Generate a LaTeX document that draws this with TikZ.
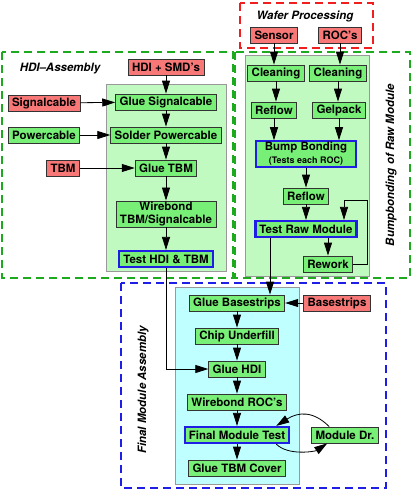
\documentclass[tikz,border=0pt]{standalone}
\usepackage{fontspec}
\setmainfont{TeX Gyre Heros}
\usetikzlibrary{arrows.meta}
\definecolor{srcred}{RGB}{248,120,120}
\definecolor{stepgreen}{RGB}{120,240,120}
\definecolor{panelgreen}{RGB}{192,250,192}
\definecolor{panelcyan}{RGB}{192,255,255}
\definecolor{grpgreen}{RGB}{30,170,30}
\definecolor{grpblue}{RGB}{30,30,230}
\definecolor{grpred}{RGB}{240,30,30}
\tikzset{
  box/.style={draw=black!80, thick, font=\fontsize{11.5}{13}\selectfont\bfseries,
    inner xsep=4pt, inner ysep=1pt, minimum height=16pt, align=center},
  src/.style={box, fill=srcred},
  work/.style={box, fill=stepgreen},
  test/.style={work, draw=grpblue, line width=2.2pt},
  arr/.style={-{Triangle[length=13pt,width=8pt]}, line width=0.8pt},
  grp/.style={dash pattern=on 8pt off 5pt, line width=1.8pt},
  panel/.style={draw=black!40, fill=#1},
  grplabel/.style={font=\fontsize{11.5}{13}\selectfont\bfseries\itshape}
}
\begin{document}
\begin{tikzpicture}[x=1pt,y=-1pt]
  \useasboundingbox (0,0) rectangle (412,491);
  % groups
  \draw[grp,grpred] (240,3) rectangle (373,48);
  \draw[grp,grpgreen] (2,52) rectangle (233,278);
  \draw[grp,grpgreen] (235,52) rectangle (410,278);
  \draw[grp,grpblue] (121,283) rectangle (386,488);
  \draw[panel=panelgreen] (106,84) rectangle (226,271);
  \draw[panel=panelgreen] (245,55) rectangle (369,276);
  \draw[panel=panelcyan] (175,287) rectangle (299,484);
  \node[grplabel] (lwafer) at (305,16) {Wafer Processing};
  \node[grplabel] (lhdi) at (60,69) {HDI--Assembly};
  \node[grplabel,rotate=90] (lbump) at (391,165) {Bumpbonding of Raw Module};
  \node[grplabel,rotate=90] (lfinal) at (143,390) {Final Module Assembly};

  % HDI assembly
  \node[src] (hdi) at (166,67) {HDI + SMD's};
  \node[src] (sig) at (44,103) {Signalcable};
  \node[work] (pow) at (44,135) {Powercable};
  \node[src] (tbm) at (63,168) {TBM};
  \node[work] (gsig) at (166,102) {Glue Signalcable};
  \node[work] (spow) at (166,135) {Solder Powercable};
  \node[work] (gtbm) at (166,168) {Glue TBM};
  \node[work] (wtbm) at (166,214) {Wirebond\\TBM/Signalcable};
  \node[test] (thdi) at (166,259) {Test HDI \& TBM};

  % bumpbonding
  \node[src] (sen) at (274,35) {Sensor};
  \node[src] (roc) at (340,35) {ROC's};
  \node[work] (cl1) at (276,73) {Cleaning};
  \node[work] (cl2) at (338,73) {Cleaning};
  \node[work] (rf1) at (274,110) {Reflow};
  \node[work] (gel) at (339,110) {Gelpack};
  \node[test, minimum width=100pt] (bb) at (306,154)
    {Bump Bonding\\{\fontsize{9}{11}\selectfont(Tests each ROC)}};
  \node[work] (rf2) at (306,196) {Reflow};
  \node[test] (trm) at (306,229) {Test Raw Module};
  \node[work] (rwk) at (328,264) {Rework};

  % final assembly
  \node[work] (gbs) at (237,303) {Glue Basestrips};
  \node[src] (bst) at (337,303) {Basestrips};
  \node[work] (cuf) at (237,336) {Chip Underfill};
  \node[work] (ghdi) at (237,369) {Glue HDI};
  \node[work] (wroc) at (237,402) {Wirebond ROC's};
  \node[test] (fmt) at (237,435) {Final Module Test};
  \node[work] (gtc) at (237,468) {Glue TBM Cover};
  \node[work] (mdr) at (345,435) {Module Dr.};

  \foreach \a/\b in {hdi/gsig,gsig/spow,spow/gtbm,gtbm/wtbm,wtbm/thdi,
      sig/gsig,pow/spow,tbm/gtbm,bb/rf2,rf2/trm,
      gbs/cuf,cuf/ghdi,ghdi/wroc,wroc/fmt,fmt/gtc,bst/gbs}
    \draw[arr] (\a) -- (\b);
  \foreach \a/\b in {sen/cl1,cl1/rf1,rf1/bb,roc/cl2,cl2/gel,gel/bb}
    \draw[arr] (\a.south) -- (\a.south |- \b.north);
  \draw[arr] (rwk.north |- trm.south) -- (rwk.north);
  \coordinate (loop) at (344,200);
  \draw[arr] (rwk.east) -- ++(14,0) |- (loop) -- (loop |- trm.north);
  \draw[arr] (thdi.south) |- (ghdi.west);
  \coordinate (drop) at (270,0);
  \draw[arr] (drop |- trm.south) -- (drop |- gbs.north);
  \draw[arr] ([xshift=18pt]mdr.north west) .. controls +(-16,-16) and +(22,-14) .. ([xshift=-14pt]fmt.north east);
  \draw[arr] ([xshift=-14pt]fmt.south east) .. controls +(12,12) and +(-12,8) .. ([xshift=16pt]mdr.south west);
\end{tikzpicture}
\end{document}
